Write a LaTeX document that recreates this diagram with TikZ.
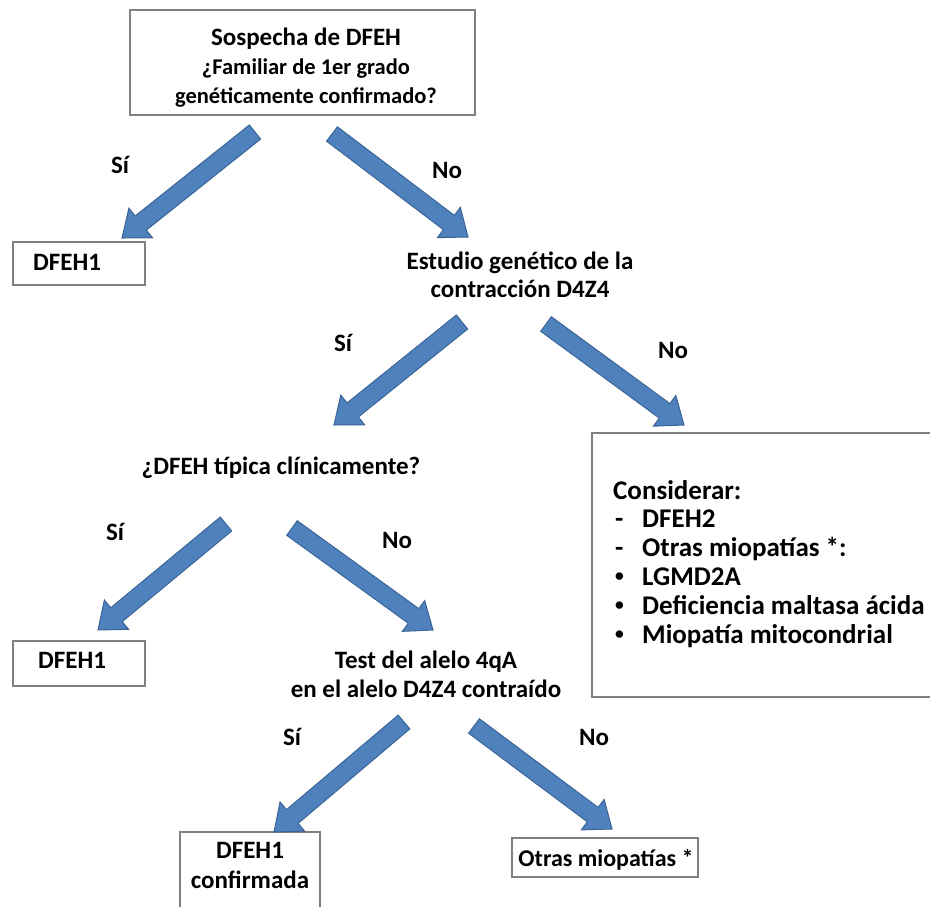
\documentclass[tikz,border=0pt]{standalone}
\usepackage{fontspec}
\setmainfont{Carlito}
\usetikzlibrary{calc}

\definecolor{arrowfill}{HTML}{4F81BD}
\definecolor{arrowline}{HTML}{3A6597}
\definecolor{boxline}{HTML}{808080}

\tikzset{
  txt/.style={font=\bfseries\fontsize{25}{29}\selectfont, inner sep=0pt, align=center, anchor=base},
  itemtxt/.style={font=\bfseries\fontsize{25}{29}\selectfont, inner sep=0pt, anchor=base west},
  listtxt/.style={font=\bfseries\fontsize{27}{29}\selectfont, inner sep=0pt, anchor=base west},
  frame/.style={draw=boxline, line width=1.6pt, inner sep=0pt},
  fatarrow/.style={fill=arrowfill, draw=arrowline, line width=1pt, line join=miter},
}

% thick block arrow from #1 (tail centre) to #2 (tip)
\newcommand\fatarrow[2]{%
  \coordinate (fa-h) at ($(#2)!24pt!(#1)$);
  \draw[fatarrow]
    ($(#1)!9pt!90:(#2)$) -- ($(fa-h)!9pt!-90:(#1)$) -- ($(fa-h)!19pt!-90:(#1)$)
    -- (#2) -- ($(fa-h)!19pt!90:(#1)$) -- ($(fa-h)!9pt!90:(#1)$)
    -- ($(#1)!9pt!-90:(#2)$) -- cycle;}

\newcommand\itemmark[1]{\makebox[29pt][l]{\hspace{2pt}#1}}
\newcommand\smalldot{\raisebox{0.28ex}{\scalebox{0.65}{•}}}
\newcommand\smallerfont{\fontsize{22.5}{29}\selectfont}

\begin{document}
\begin{tikzpicture}[x=1pt,y=-1pt]
\useasboundingbox[fill=white] (0,0) rectangle (930,906);

% boxes
\node[frame, minimum width=345pt, minimum height=105pt] (topbox) at (302.5,62.5) {};
\node[frame, minimum width=132pt, minimum height=43pt] (d1box) at (79,263.5) {};
\node[frame, minimum width=353pt, minimum height=264pt] (considbox) at (768.5,565) {};
\node[frame, minimum width=132pt, minimum height=45pt] (d1bbox) at (79,663.5) {};
\node[frame, minimum width=140pt, minimum height=90pt] (confbox) at (250,877) {};
\node[frame, minimum width=186pt, minimum height=39pt] (otrasbox) at (605,857.5) {};

% texts (anchor base = baseline of the last line)
\node[txt] (toptext) at (306,103) {Sospecha de DFEH\\{\smallerfont ¿Familiar de 1er grado}\\{\smallerfont genéticamente confirmado?}};
\node[itemtxt] (d1) at (33,270) {DFEH1};
\node[txt] (estudio) at (520,297) {Estudio genético de la\\[-1pt]contracción D4Z4};
\node[txt] (tipica) at (281,474) {¿DFEH típica clínicamente?};
\node[itemtxt] (d1b) at (38,668) {DFEH1};
\node[txt] (test) at (426,697) {Test del alelo 4qA\\en el alelo D4Z4 contraído};
\node[txt] (conf) at (250,888) {DFEH1\\[1pt]confirmada};
\node[txt, font=\bfseries\fontsize{24}{28}\selectfont] (otras) at (606,866) {Otras miopatías *};

\node[listtxt] (c0) at (613,499) {Considerar:};
\node[listtxt] (c1) at (613,527) {\itemmark{-}DFEH2};
\node[listtxt] (c2) at (613,556) {\itemmark{-}Otras miopatías *:};
\node[listtxt] (c3) at (613,585) {\itemmark{\smalldot}LGMD2A};
\node[listtxt] (c4) at (613,614) {\itemmark{\smalldot}Deficiencia maltasa ácida};
\node[listtxt] (c5) at (613,643) {\itemmark{\smalldot}Miopatía mitocondrial};

% branch labels
\node[txt] (si1) at (120,173) {Sí};
\node[txt] (no1) at (447,178) {No};
\node[txt] (si2) at (343,351) {Sí};
\node[txt] (no2) at (673,358) {No};
\node[txt] (si3) at (115,540) {Sí};
\node[txt] (no3) at (397,548) {No};
\node[txt] (si4) at (292,745) {Sí};
\node[txt] (no4) at (594,745) {No};

% arrow ends
\coordinate (a1s) at (255,132); \coordinate (a1e) at (122,238);
\coordinate (a2s) at (332,134); \coordinate (a2e) at (468,237);
\coordinate (a3s) at (462,322); \coordinate (a3e) at (334,425);
\coordinate (a4s) at (546,324); \coordinate (a4e) at (684,425);
\coordinate (a5s) at (226,524); \coordinate (a5e) at (98,630);
\coordinate (a6s) at (292,528); \coordinate (a6e) at (433,630);
\coordinate (a7s) at (404,722); \coordinate (a7e) at (274,832);
\coordinate (a8s) at (474,726); \coordinate (a8e) at (612,829);

\fatarrow{a1s}{a1e}
\fatarrow{a2s}{a2e}
\fatarrow{a3s}{a3e}
\fatarrow{a4s}{a4e}
\fatarrow{a5s}{a5e}
\fatarrow{a6s}{a6e}
\fatarrow{a7s}{a7e}
\fatarrow{a8s}{a8e}
\end{tikzpicture}
\end{document}
